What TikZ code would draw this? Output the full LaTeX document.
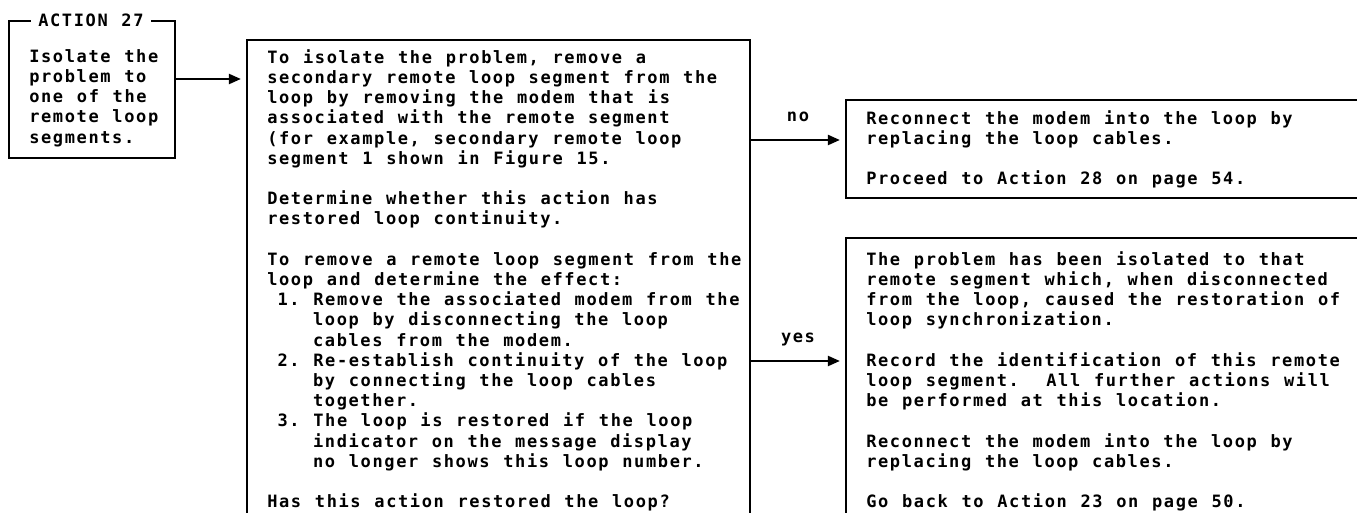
\documentclass[tikz,border=0pt]{standalone}
\usepackage{fontspec}
\newfontfamily\ibmfont{DejaVu Sans Mono Bold}[LetterSpace=9.5,WordSpace={1.157,0,0}]
\usetikzlibrary{arrows.meta,fit,calc}
\newcommand{\skipline}{\\[10.1pt]}
\newcommand{\ind}[1]{\phantom{#1}}
\tikzset{
  frame/.style={draw,line width=1.1pt,inner sep=0pt},
  prose/.style={font=\ibmfont\fontsize{8.5}{10.1}\selectfont\frenchspacing,align=left,inner sep=0pt,anchor=north west},
  link/.style={->,line width=1.1pt,shorten >=2.5pt},
  answer/.style={font=\ibmfont\fontsize{8.5}{10.1}\selectfont,inner sep=0pt,anchor=base,yshift=9pt}
}

\begin{document}
\begin{tikzpicture}[x=0.5pt,y=-0.5pt,>={Triangle[length=6pt,width=5pt]}]
  \useasboundingbox (0,0) rectangle (1357,513);
  \clip (0,0) rectangle (1357,513);
  % frames (the right and lower ones run off the page)
  \node[frame,fit={(9,21) (175,158)}] (act) {};
  \node[frame,fit={(247,40) (750,600)}] (main) {};
  \node[frame,fit={(846,100) (1420,198)}] (nobox) {};
  \node[frame,fit={(846,238) (1420,600)}] (yesbox) {};
  \node[prose,fill=white,inner xsep=3.5pt,anchor=west] (acttitle) at ([xshift=11.5pt]act.north west) {ACTION 27};
  \node[prose] (acttext) at ([shift={(21,29.1)}]act.north west) {Isolate the\\problem to\\one of the\\remote loop\\segments.};
  \node[prose] (maintext) at ([shift={(21,10.1)}]main.north west) {To isolate the problem, remove a\\
secondary remote loop segment from the\\
loop by removing the modem that is\\
associated with the remote segment\\
(for example, secondary remote loop\\
segment 1 shown in Figure 15.\skipline
Determine whether this action has\\
restored loop continuity.\skipline
To remove a remote loop segment from the\\
loop and determine the effect:\\
\ind{0}1. Remove the associated modem from the\\
\ind{0000}loop by disconnecting the loop\\
\ind{0000}cables from the modem.\\
\ind{0}2. Re-establish continuity of the loop\\
\ind{0000}by connecting the loop cables\\
\ind{0000}together.\\
\ind{0}3. The loop is restored if the loop\\
\ind{0000}indicator on the message display\\
\ind{0000}no longer shows this loop number.\skipline
Has this action restored the loop?};
  \node[prose] (notext) at ([shift={(21,11.1)}]nobox.north west) {Reconnect the modem into the loop by\\
replacing the loop cables.\skipline
Proceed to Action 28 on page 54.};
  \node[prose] (yestext) at ([shift={(21,14.1)}]yesbox.north west) {The problem has been isolated to that\\
remote segment which, when disconnected\\
from the loop, caused the restoration of\\
loop synchronization.\skipline
Record the identification of this remote\\
loop segment.~ All further actions will\\
be performed at this location.\skipline
Reconnect the modem into the loop by\\
replacing the loop cables.\skipline
Go back to Action 23 on page 50.};
  % connectors
  \coordinate (rowa) at (0,79);
  \coordinate (rowno) at (0,140);
  \coordinate (rowyes) at (0,361);
  \draw[link] (act.east|-rowa) -- (main.west|-rowa);
  \draw[link] (main.east|-rowno) -- node[answer]{no} (nobox.west|-rowno);
  \draw[link] (main.east|-rowyes) -- node[answer]{yes} (yesbox.west|-rowyes);
\end{tikzpicture}
\end{document}
